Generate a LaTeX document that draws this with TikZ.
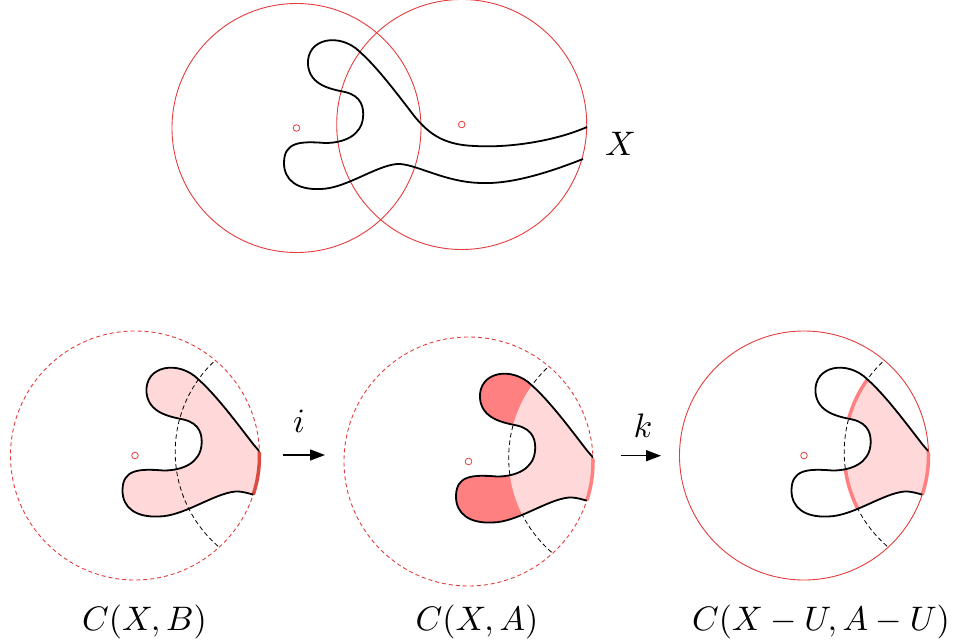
\documentclass[tikz,border=0pt]{standalone}
\usetikzlibrary{arrows.meta}
\definecolor{cred}{RGB}{228,60,60}
\definecolor{darkarc}{RGB}{220,75,65}
\definecolor{salmon}{RGB}{255,128,128}
\definecolor{lightpink}{RGB}{255,217,217}
\def\XC{(587,127) .. controls (555,141) and (510,148) .. (475,146)
  .. controls (445,145) and (430,135) .. (415,117)
  .. controls (398,95) and (378,68) .. (360,52)
  .. controls (340,32) and (306,38) .. (308,65)
  .. controls (310,85) and (330,89) .. (345,92)
  .. controls (362,96) and (364,108) .. (363,118)
  .. controls (361,135) and (345,143) .. (325,143)
  .. controls (300,141) and (284,142) .. (284,163)
  .. controls (284,180) and (297,190) .. (320,189)
  .. controls (345,189) and (375,166) .. (397,164)
  .. controls (415,163) and (445,183) .. (483,183)
  .. controls (515,184) and (555,170) .. (583,159)}
\def\LD{(296.5,128) circle[radius=124.5pt]}
\def\RD{(461.7,124.5) circle[radius=125pt]}
\def\MK{(296.5,128) circle[radius=3.3pt]}
\begin{document}
\begin{tikzpicture}[x=1pt,y=-1pt,
  redc/.style={draw=cred,line width=0.9pt},
  reddash/.style={draw=cred,line width=0.9pt,dash pattern=on 4pt off 3pt},
  blackdash/.style={draw=black,line width=0.8pt,dash pattern=on 4.5pt off 3pt},
  curve/.style={draw=black,line width=1.8pt},
  marker/.style={draw=cred,line width=0.8pt},
  thickarc/.style={line width=3.5pt},
  lab/.style={scale=3.4,inner sep=0pt},
  arr/.style={-{Triangle[length=15pt,width=11pt]},line width=1.3pt}]
\path[use as bounding box] (0,0) rectangle (956,642);
% ---------- top ----------
\draw[redc] \LD;
\draw[redc] \RD;
\draw[curve] \XC;
\draw[marker] \MK;
\draw[marker] (461.7,124.5) circle[radius=3.3pt];
\node[lab,anchor=base] (lX) at (620.5,155) {$X$};
% ---------- left panel ----------
\begin{scope}[shift={(-161.5,327.5)}]
  \begin{scope}
    \clip \LD;
    \fill[lightpink] \XC -- cycle;
    \draw[blackdash] \RD;
  \end{scope}
  \draw[reddash] \LD;
  \begin{scope}
    \clip \XC -- cycle;
    \draw[darkarc,thickarc] \LD;
  \end{scope}
  \begin{scope}
    \clip \LD;
    \draw[curve] \XC;
  \end{scope}
  \draw[marker] \MK;
\end{scope}
% ---------- middle panel ----------
\begin{scope}[shift={(172,333.5)}]
  \begin{scope}
    \clip \LD;
    \draw[blackdash] \RD;
    \fill[salmon] \XC -- cycle;
    \clip \RD;
    \fill[lightpink] \XC -- cycle;
  \end{scope}
  \draw[reddash] \LD;
  \begin{scope}
    \clip \XC -- cycle;
    \draw[salmon,thickarc] \LD;
  \end{scope}
  \begin{scope}
    \clip \LD;
    \draw[curve] \XC;
  \end{scope}
  \draw[marker] \MK;
\end{scope}
% ---------- right panel ----------
\begin{scope}[shift={(507.5,327.5)}]
  \begin{scope}
    \clip \LD;
    \draw[blackdash] \RD;
    \clip \RD;
    \fill[lightpink] \XC -- cycle;
  \end{scope}
  \draw[redc] \LD;
  \begin{scope}
    \clip \LD;
    \clip \XC -- cycle;
    \draw[salmon,thickarc] \RD;
  \end{scope}
  \begin{scope}
    \clip \XC -- cycle;
    \draw[salmon,thickarc] \LD;
  \end{scope}
  \begin{scope}
    \clip \LD;
    \draw[curve] \XC;
  \end{scope}
  \draw[marker] \MK;
\end{scope}
% ---------- arrows ----------
\coordinate (i1) at (283,455);
\coordinate (i2) at (325,455);
\draw[arr] (i1) -- (i2);
\node[lab,anchor=base] (li) at (299,432) {$i$};
\coordinate (k1) at (621,455.7);
\coordinate (k2) at (661,455.7);
\draw[arr] (k1) -- (k2);
\node[lab,anchor=base] (lk) at (643,437) {$k$};
% ---------- labels ----------
\node[lab,anchor=base] (lB) at (144.5,630) {$C(X,B)$};
\node[lab,anchor=base] (lA) at (477,630) {$C(X,A)$};
\node[lab,anchor=base] (lU) at (821,630) {$C(X-U,A-U)$};
\end{tikzpicture}
\end{document}
